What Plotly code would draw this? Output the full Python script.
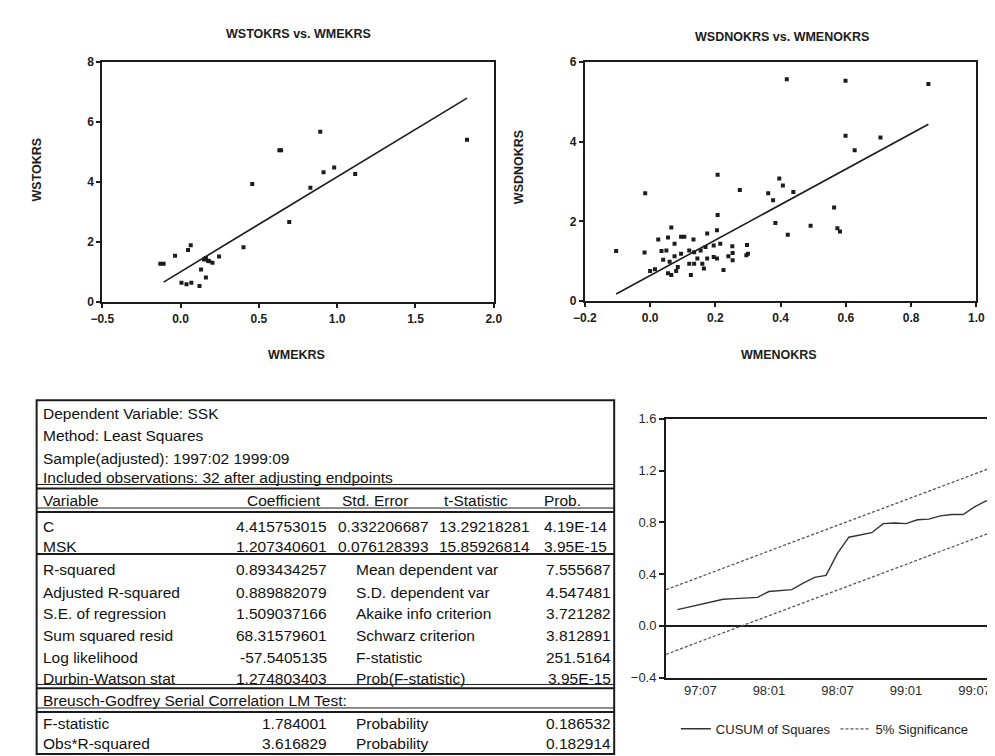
import plotly.graph_objects as go

# ---------------- data ----------------
# Left scatter: WSTOKRS vs WMEKRS
left_x = [1.829, 0.892, 0.631, 0.642, 0.458, 0.694, 0.913, 0.981, 1.115, 0.829,
          0.402, -0.108, -0.129, -0.035, 0.048, 0.065, 0.162, 0.183, 0.204, 0.246,
          0.131, 0.006, 0.038, 0.069, 0.121, 0.162, 0.150, 0.175]
left_y = [5.41, 5.68, 5.06, 5.06, 3.94, 2.67, 4.33, 4.49, 4.27, 3.81,
          1.83, 1.28, 1.28, 1.55, 1.74, 1.90, 1.47, 1.36, 1.31, 1.52,
          1.09, 0.65, 0.60, 0.65, 0.54, 0.82, 1.42, 1.38]
left_fit_x = [-0.108, 1.829]
left_fit_y = [0.67, 6.80]

# Right scatter: WSDNOKRS vs WMENOKRS
right_x = [-0.104, -0.015, -0.017, 0.419, 0.599, 0.853, 0.599, 0.706, 0.627, 0.207,
           0.275, 0.362, 0.396, 0.407, 0.439, 0.377, 0.207, 0.384, 0.422, 0.492,
           0.564, 0.574, 0.582, 0.065, 0.025, 0.055, 0.095, 0.105, 0.133, 0.175,
           0.205, 0.075, 0.035, 0.050, 0.075, 0.095, 0.120, 0.135, 0.155, 0.170,
           0.195, 0.215, 0.252, 0.297, 0.040, 0.060, 0.085, 0.015, 0.000, 0.055,
           0.065, 0.080, 0.125, 0.135, 0.160, 0.165, 0.175, 0.195, 0.205, 0.225,
           0.240, 0.253, 0.253, 0.295, 0.300, 0.120, 0.145]
right_y = [1.26, 2.71, 1.22, 5.57, 5.53, 5.45, 4.15, 4.11, 3.79, 3.17,
           2.79, 2.71, 3.08, 2.90, 2.74, 2.53, 2.16, 1.96, 1.67, 1.89,
           2.35, 1.83, 1.75, 1.85, 1.55, 1.60, 1.62, 1.62, 1.55, 1.70,
           1.78, 1.44, 1.26, 1.27, 1.13, 1.19, 1.27, 1.23, 1.27, 1.36,
           1.40, 1.44, 1.38, 1.41, 1.04, 0.99, 0.86, 0.80, 0.76, 0.70,
           0.66, 0.76, 0.66, 0.94, 0.94, 0.82, 1.07, 1.11, 1.07, 0.78,
           1.13, 1.03, 1.21, 1.15, 1.19, 0.94, 1.07]
right_fit_x = [-0.104, 0.853]
right_fit_y = [0.18, 4.44]

# CUSUM of squares (month index: 0 = 1997:04)
cusum_month = list(range(1, 30))
cusum_val = [0.125, 0.145, 0.16, 0.18, 0.205, 0.21, 0.215, 0.22, 0.265, 0.275,
             0.28, 0.33, 0.375, 0.39, 0.56, 0.685, 0.70, 0.72, 0.79, 0.795,
             0.79, 0.82, 0.825, 0.85, 0.86, 0.86, 0.92, 0.965, 0.99]
bound_month = [0, 29]
upper_bound = [0.28, 1.24]
lower_bound = [-0.22, 0.74]
cusum_tick_vals = [3, 9, 15, 21, 27]
cusum_tick_text = ["97:07", "98:01", "98:07", "99:01", "99:07"]

# Regression output table
table_header_lines = ["Dependent Variable: SSK", "Method: Least Squares",
                      "Sample(adjusted): 1997:02 1999:09",
                      "Included observations: 32 after adjusting endpoints"]
col_headers = ["Variable", "Coefficient", "Std. Error", "t-Statistic", "Prob."]
var_names = ["C", "MSK"]
coefs = ["4.415753015", "1.207340601"]
std_errs = ["0.332206687", "0.076128393"]
t_stats = ["13.29218281", "15.85926814"]
probs = ["4.19E-14", "3.95E-15"]
stat_labels_l = ["R-squared", "Adjusted R-squared", "S.E. of regression",
                 "Sum squared resid", "Log likelihood", "Durbin-Watson stat"]
stat_vals_l = ["0.893434257", "0.889882079", "1.509037166",
               "68.31579601", "-57.5405135", "1.274803403"]
stat_labels_r = ["Mean dependent var", "S.D. dependent var", "Akaike info criterion",
                 "Schwarz criterion", "F-statistic", "Prob(F-statistic)"]
stat_vals_r = ["7.555687", "4.547481", "3.721282", "3.812891", "251.5164", "3.95E-15"]
bg_title = "Breusch-Godfrey Serial Correlation LM Test:"
bg_labels = ["F-statistic", "Obs*R-squared"]
bg_vals = ["1.784001", "3.616829"]
bg_prob_labels = ["Probability", "Probability"]
bg_probs = ["0.186532", "0.182914"]

# ---------------- layout helpers ----------------
W, H = 995, 756
FONT = "Liberation Sans, Arial, sans-serif"
INK = "#1c1c1c"


def px(x):
    return x / W


def py(y):
    return 1 - y / H


fig = go.Figure()

fig.add_trace(go.Scatter(x=left_x, y=left_y, mode="markers", xaxis="x", yaxis="y",
                         marker=dict(symbol="square", size=4, color=INK), showlegend=False))
fig.add_trace(go.Scatter(x=left_fit_x, y=left_fit_y, mode="lines", xaxis="x", yaxis="y",
                         line=dict(color=INK, width=1.6), showlegend=False))
fig.add_trace(go.Scatter(x=right_x, y=right_y, mode="markers", xaxis="x2", yaxis="y2",
                         marker=dict(symbol="square", size=4, color=INK), showlegend=False))
fig.add_trace(go.Scatter(x=right_fit_x, y=right_fit_y, mode="lines", xaxis="x2", yaxis="y2",
                         line=dict(color=INK, width=1.6), showlegend=False))
fig.add_trace(go.Scatter(x=cusum_month, y=cusum_val, mode="lines", xaxis="x3", yaxis="y3",
                         name="CUSUM of Squares", line=dict(color="#333333", width=1.4)))
fig.add_trace(go.Scatter(x=bound_month, y=upper_bound, mode="lines", xaxis="x3", yaxis="y3",
                         name="5% Significance",
                         line=dict(color="#555555", width=1.3, dash="3px,2px")))
fig.add_trace(go.Scatter(x=bound_month, y=lower_bound, mode="lines", xaxis="x3", yaxis="y3",
                         showlegend=False,
                         line=dict(color="#555555", width=1.3, dash="3px,2px")))

tickfont = dict(family=FONT, size=12, color=INK, weight="bold")
axis_common = dict(showgrid=False, zeroline=False, showline=True, linecolor=INK,
                   linewidth=2, ticks="outside", ticklen=4, tickwidth=1.5,
                   tickcolor=INK, tickfont=tickfont)
cusum_tickfont = dict(family=FONT, size=13, color="#2a2a2a")

fig.update_layout(
    width=W, height=H, margin=dict(l=0, r=0, t=0, b=0),
    paper_bgcolor="white", plot_bgcolor="white",
    font=dict(family=FONT, color=INK),
    xaxis=dict(domain=[px(84), px(484)], range=[-0.5, 2.0], dtick=0.5,
               tickformat=".1f", anchor="y", mirror=True, **axis_common),
    yaxis=dict(domain=[py(293), py(48)], range=[0, 8], dtick=2, anchor="x",
               mirror=True, **axis_common),
    xaxis2=dict(domain=[px(577), px(977)], range=[-0.2, 1.0], dtick=0.2,
                tickformat=".1f", anchor="y2", mirror=True, **axis_common),
    yaxis2=dict(domain=[py(292), py(48)], range=[0, 6], dtick=2, anchor="x2",
                mirror=True, **axis_common),
    xaxis3=dict(domain=[px(660), 1.0], range=[0, 28.7], tickvals=cusum_tick_vals,
                ticktext=cusum_tick_text, anchor="y3", mirror=True,
                **{**axis_common, "ticks": "", "tickfont": cusum_tickfont}),
    yaxis3=dict(domain=[py(676), py(412)], range=[-0.4, 1.6], dtick=0.4,
                tickformat=".1f", anchor="x3",
                **{**axis_common, "zeroline": True, "zerolinecolor": INK,
                   "zerolinewidth": 2, "tickfont": cusum_tickfont, "ticklen": 5}),
    legend=dict(orientation="h", x=px(670), y=py(713), xanchor="left", yanchor="top",
                font=dict(family=FONT, size=13, color=INK), bgcolor="rgba(0,0,0,0)",
                itemwidth=30, tracegroupgap=0),
)

ann = []


def text(x, y, s, anchor="left", size=15.5, angle=0, weight="normal", color="#111111"):
    ann.append(dict(x=px(x), y=py(y), xref="paper", yref="paper", text=s, showarrow=False,
                    xanchor=anchor, yanchor="middle", textangle=angle,
                    font=dict(family=FONT, size=size, color=color, weight=weight)))


# chart titles
text(284, 19, "WSTOKRS vs. WMEKRS", "center", 12.5, weight="bold", color=INK)
text(778, 22, "WSDNOKRS vs. WMENOKRS", "center", 12.5, weight="bold", color=INK)
text(17, 158, "WSTOKRS", "center", 12.5, angle=-90, weight="bold", color=INK)
text(510, 155, "WSDNOKRS", "center", 12.5, angle=-90, weight="bold", color=INK)
text(282, 347, "WMEKRS", "center", 12.5, weight="bold", color=INK)
text(775, 347, "WMENOKRS", "center", 12.5, weight="bold", color=INK)

# table text
TL, C2, C3, C4, C5, R2, RR = 21, 316, 420, 523, 533, 341, 606
rows_head = [407, 429, 452, 472]
for yy, s in zip(rows_head, table_header_lines):
    text(TL, yy, s)
text(TL, 495, col_headers[0])
text(C2 - 6, 495, col_headers[1], "right")
text(C3 - 22, 495, col_headers[2], "right")
text(C4 - 22, 495, col_headers[3], "right")
text(C5, 495, col_headers[4])
for yy, n, a, b, c, d in zip([522, 542], var_names, coefs, std_errs, t_stats, probs):
    text(TL, yy, n)
    text(C2, yy, a, "right")
    text(C3, yy, b, "right")
    text(C4, yy, c, "right")
    text(C5, yy, d)
for yy, la, va, lb, vb in zip([566, 589, 611, 633, 656, 677], stat_labels_l, stat_vals_l,
                              stat_labels_r, stat_vals_r):
    text(TL, yy, la)
    text(C2, yy, va, "right")
    text(R2, yy, lb)
    text(RR, yy, vb, "right")
text(TL, 699, bg_title)
for yy, la, va, lb, vb in zip([723, 743], bg_labels, bg_vals, bg_prob_labels, bg_probs):
    text(TL, yy, la)
    text(C2, yy, va, "right")
    text(R2, yy, lb)
    text(RR, yy, vb, "right")

fig.update_layout(annotations=ann)

# table borders
shapes = []


def hline(y, w=2, x0=17, x1=607):
    shapes.append(dict(type="line", xref="paper", yref="paper", x0=px(x0), x1=px(x1),
                       y0=py(y), y1=py(y), line=dict(color=INK, width=w)))


shapes.append(dict(type="rect", xref="paper", yref="paper", x0=px(17), x1=px(607),
                   y0=py(754), y1=py(393), line=dict(color=INK, width=2)))
for yy in [483, 507, 550, 687, 711]:
    hline(yy, 2)
for yy in [479, 503, 683, 707]:
    hline(yy, 1)
fig.update_layout(shapes=shapes)

fig.write_html("out.html")
